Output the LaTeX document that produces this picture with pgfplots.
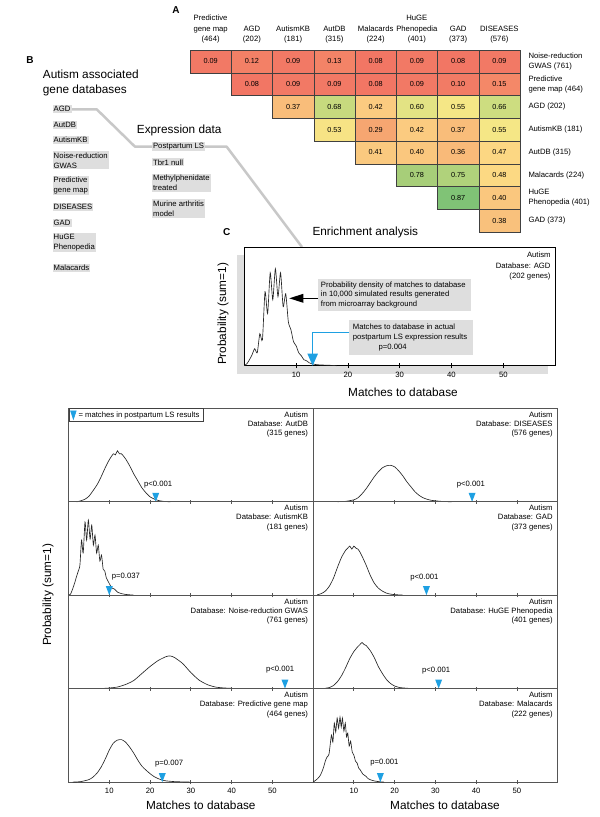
\documentclass[border=0pt]{standalone}
\usepackage{fontspec}
\setmainfont{Liberation Sans}
\usepackage{pgfplots}
\usepackage{pgfplotstable}
\pgfplotsset{compat=1.18}
\definecolor{triblue}{RGB}{30,160,226}
\definecolor{boxgray}{RGB}{222,222,222}
\definecolor{conngray}{RGB}{200,200,200}
\definecolor{framegray}{RGB}{85,85,85}
\newcommand{\fs}{\fontsize{7.7}{9.3}\selectfont}
\newcommand{\fl}{\fontsize{11.8}{14.7}\selectfont}
\pgfdeclareplotmark{cell}{\pgfpathrectangle{\pgfpoint{-20.625pt}{-11.375pt}}{\pgfpoint{41.25pt}{22.75pt}}\pgfusepathqfillstroke}
\pgfdeclareplotmark{dtri}{\pgfpathmoveto{\pgfpoint{-3.5pt}{9pt}}\pgfpathlineto{\pgfpoint{3.5pt}{9pt}}\pgfpathlineto{\pgfpoint{0pt}{0pt}}\pgfpathclose\pgfusepathqfill}
\pgfdeclareplotmark{dtribig}{\pgfpathmoveto{\pgfpoint{-5.3pt}{12pt}}\pgfpathlineto{\pgfpoint{5.3pt}{12pt}}\pgfpathlineto{\pgfpoint{0pt}{0pt}}\pgfpathclose\pgfusepathqfill}
\pgfplotsset{
 panel/.style={scale only axis, width=244.6pt, height=93.5pt, xmin=0, xmax=60, ymin=0, ymax=93.5,
   xtick={10,20,30,40,50}, ytick=\empty, xtick pos=left, xtick align=center, major tick length=4pt,
   axis line style={framegray, line width=0.9pt}, every tick/.append style={framegray, line width=0.8pt},
   anchor=north west, clip=false, /pgf/number format/assume math mode=true, tick label style={font=\fs}},
 curve/.style={black!85, line width=0.65pt, smooth, tension=0.4, forget plot},
 tri/.style={only marks, mark=dtri, triblue},
}
\tikzset{
 note/.style={anchor=north east, align=right, font=\fs, inner sep=0pt},
 pv/.style={font=\fs, inner sep=0pt},
}
\pgfplotstableread{
x y v
0 0 0.09
1 0 0.12
2 0 0.09
3 0 0.13
4 0 0.08
5 0 0.09
6 0 0.08
7 0 0.09
1 1 0.08
2 1 0.09
3 1 0.09
4 1 0.08
5 1 0.09
6 1 0.10
7 1 0.15
2 2 0.37
3 2 0.68
4 2 0.42
5 2 0.60
6 2 0.55
7 2 0.66
3 3 0.53
4 3 0.29
5 3 0.42
6 3 0.37
7 3 0.55
4 4 0.41
5 4 0.40
6 4 0.36
7 4 0.47
5 5 0.78
6 5 0.75
7 5 0.48
6 6 0.87
7 6 0.40
7 7 0.38
}\hmtable
\begin{document}
\begin{tikzpicture}
\path[use as bounding box] (0pt,0pt) rectangle (600pt,-817pt);
% ---------- decorations (B panel, C background) ----------
\begin{scope}[x=1pt,y=-1pt]
\fill[boxgray] (236.7,255) rectangle (548,374);
\draw[conngray, line width=2.5pt, line join=round] (70,109.3) -- (96.7,109.3) -- (135,146.7) -- (153,146.7);
\draw[conngray, line width=2.5pt, line join=round] (203,146.7) -- (226.7,146.7) -- (302,247);
\node[anchor=base, font=\bfseries\fontsize{10}{12}\selectfont] at (176,13.3) {A};
\node[anchor=base, font=\bfseries\fontsize{10}{12}\selectfont] at (30,63.3) {B};
\node[anchor=base, font=\bfseries\fontsize{10}{12}\selectfont] at (226.8,235.7) {C};
\node[anchor=base west, font=\fl, inner sep=0pt] at (42.7,78.5) {Autism associated};
\node[anchor=base west, font=\fl, inner sep=0pt] at (42.7,93) {gene databases};
\node[anchor=base west, font=\fl, inner sep=0pt] at (136.7,133.2) {Expression data};
\node[anchor=base, font=\fl, inner sep=0pt] at (365.3,235.9) {Enrichment analysis};
\tikzset{dbox/.style={fill=boxgray, inner xsep=1.2pt, inner ysep=1.2pt, anchor=west, align=left, font=\fontsize{7.7}{10}\selectfont}}
\node[dbox] at (52.3,109.3) {AGD};
\node[dbox] at (52.3,125) {AutDB};
\node[dbox] at (52.3,140) {AutismKB};
\node[dbox] at (52.3,160.3) {Noise-reduction\\GWAS};
\node[dbox] at (52.3,185.7) {Predictive\\gene map};
\node[dbox] at (52.3,207.3) {DISEASES};
\node[dbox] at (52.3,223) {GAD};
\node[dbox] at (52.3,242.5) {HuGE\\Phenopedia};
\node[dbox] at (52.3,268) {Malacards};
\node[dbox] at (151.7,146.7) {Postpartum LS};
\node[dbox] at (151.7,162.3) {Tbr1 null};
\node[dbox] at (151.7,182.7) {Methylphenidate\\treated};
\node[dbox] at (151.7,208.5) {Murine arthritis\\model};
\end{scope}
% ---------- A: heatmap ----------
\begin{axis}[
  at={(355pt,-141pt)}, anchor=center, scale only axis, width=330pt, height=182pt,
  xmin=-0.5, xmax=7.5, ymin=-0.5, ymax=7.5, y dir=reverse, clip=false,
  axis line style={draw=none}, major tick length=0pt,
  xtick={0,...,7}, ytick={0,...,7},
  xticklabel pos=upper, yticklabel pos=right,
  xticklabels={{Predictive\\gene map\\(464)},{AGD\\(202)},{AutismKB\\(181)},{AutDB\\(315)},{Malacards\\(224)},{HuGE\\Phenopedia\\(401)},{GAD\\(373)},{DISEASES\\(576)}},
  yticklabels={{Noise-reduction\\GWAS (761)},{Predictive\\gene map (464)},{AGD (202)},{AutismKB (181)},{AutDB (315)},{Malacards (224)},{HuGE\\Phenopedia (401)},{GAD (373)}},
  xticklabel style={font=\fontsize{7.7}{10.5}\selectfont, align=center, anchor=south, yshift=3pt},
  yticklabel style={font=\fontsize{7.7}{10}\selectfont, align=left, anchor=west, xshift=5pt},
  colormap={hm}{rgb255=(242,118,100) rgb255=(244,138,104) rgb255=(245,155,108) rgb255=(247,172,115) rgb255=(250,198,126) rgb255=(252,216,131) rgb255=(245,232,134) rgb255=(214,224,130) rgb255=(188,214,124) rgb255=(163,205,121) rgb255=(128,195,118)},
  point meta min=0.08, point meta max=0.87,
  /pgf/number format/assume math mode=true,
]
\addplot[scatter, only marks, mark=cell, point meta=\thisrow{v},
  mark options={line width=0.5pt},
  scatter/use mapped color={draw=black!75, fill=mapped color}]
  table[x=x, y=y] {\hmtable};
\addplot[draw=none, mark=none, point meta=\thisrow{v},
  nodes near coords={\pgfmathprintnumber[fixed,fixed zerofill,precision=2]{\pgfplotspointmeta}},
  nodes near coords align={center},
  every node near coord/.append style={black, font=\fontsize{7.3}{8}\selectfont, anchor=center}]
  table[x=x, y=y] {\hmtable};
\end{axis}
% ---------- C: enrichment example ----------
\begin{axis}[scale only axis, width=310.8pt, height=118.7pt, at={(244.3pt,-247pt)}, anchor=north west,
  xmin=0, xmax=60, ymin=0, ymax=118.7, xtick={10,20,30,40,50}, ytick=\empty, xtick pos=left,
  xtick align=center, major tick length=5pt, axis line style={black, line width=0.8pt},
  every tick/.append style={black, line width=0.7pt},
  axis background/.style={fill=white}, clip=false,
  /pgf/number format/assume math mode=true, tick label style={font=\fs}]
\addplot[curve] coordinates {(0,0) (0.5,2) (1,6) (1.5,11) (2,17) (2.5,13) (3,32) (3.5,26) (4,74) (4.5,52) (5,93) (5.5,66) (6,97) (6.5,69) (7,93) (7.5,59) (8,72) (8.5,44) (9,36) (9.5,24) (10,20) (10.5,13) (11,10) (11.5,6) (12,5) (12.5,3) (13,2) (14,1) (15,0.7) (16,0.5) (17,0.3) (17.8,0)};
\addplot[only marks, mark=dtribig, triblue] coordinates {(13.2,0)};
\node[anchor=north east, align=right, font=\fontsize{7.7}{10.5}\selectfont, inner sep=0pt] at (rel axis cs:0.986,0.959) {Autism\\Database: AGD\\(202 genes)};
\end{axis}
\begin{scope}[x=1pt,y=-1pt]
\fill[boxgray] (318,279.3) rectangle (471,310.7);
\node[anchor=north west, align=left, font=\fontsize{7.7}{9.8}\selectfont, inner sep=0pt] at (320.7,281.4) {Probability density of matches to database\\in 10,000 simulated results generated\\from microarray background};
\draw[black, line width=0.8pt] (318,298.3) -- (302,298.3);
\fill[black] (303.3,293.8) -- (303.3,302.8) -- (289.3,298.3) -- cycle;
\fill[boxgray] (349.3,320) rectangle (473.3,355);
\node[anchor=north west, align=left, font=\fontsize{7.7}{10}\selectfont, inner sep=0pt] at (352.7,323.4) {Matches to database in actual\\postpartum LS expression results};
\node[font=\fs] at (392.7,347.7) {p=0.004};
\draw[triblue, line width=0.8pt] (349.3,332.3) -- (312.7,332.3) -- (312.7,354);
\node[anchor=base, rotate=90, font=\fl, inner sep=0pt] at (226,314) {Probability (sum=1)};
\node[anchor=base, font=\fl, inner sep=0pt] at (403,396.7) {Matches to database};
\end{scope}
% ---------- bottom panels, left column ----------
\begin{axis}[panel, at={(68.5pt,-408.3pt)}, xticklabels={},
  legend style={at={(0,1)}, anchor=north west, draw=black!75, line width=0.6pt, font=\fs, inner xsep=1.5pt, inner ysep=1pt, legend cell align=left},
  legend image code/.code={\fill[triblue] (-2.8pt,4.2pt) -- (2.8pt,4.2pt) -- (0pt,-4.2pt) -- cycle;}]
\addplot[curve] coordinates {(2,0) (3,1) (4,2.5) (5,5.5) (6,11) (7,17) (8,25) (9,34) (10,42) (11,48) (11.5,47) (12,51) (12.5,48) (13,48) (14,43) (15,36) (16,28) (17,21) (18,14) (19,9) (20,5) (21,2.8) (22,1.4) (23,0.6) (24,0.2) (25,0)};
\addplot[tri] coordinates {(21.4,0)};
\addlegendentry{= matches in postpartum LS results}
\node[note] at (rel axis cs:0.98,0.965) {Autism\\Database: AutDB\\(315 genes)};
\node[pv] at (axis cs:22,17) {p<0.001};
\end{axis}
\begin{axis}[panel, at={(68.5pt,-501.6pt)}, xticklabels={}]
\addplot[curve] coordinates {(0,0) (0.5,1) (1,6) (1.5,12) (2,19) (2.4,24) (2.8,30) (3.2,55) (3.6,42) (4.05,73) (4.45,55) (4.87,75) (5.3,56) (5.7,70) (6.1,50) (6.5,60) (6.9,42) (7.3,50) (7.7,34) (8.1,40) (8.5,26) (8.9,24) (9.3,17) (9.7,14) (10.2,10) (10.7,7) (11.3,6) (12,3) (13,1.5) (14,0.7) (15,0.3) (16,0)};
\addplot[tri] coordinates {(10,0)};
\node[note] at (rel axis cs:0.98,0.965) {Autism\\Database: AutismKB\\(181 genes)};
\node[pv, anchor=west] at (axis cs:10.6,19) {p=0.037};
\end{axis}
\begin{axis}[panel, at={(68.5pt,-595pt)}, xticklabels={}]
\addplot[curve] coordinates {(8,0) (10,0.5) (12,1.5) (14,4) (16,8) (18,15) (20,22) (22,28) (24,32) (25,32.5) (26,31) (28,25) (30,16) (32,8.5) (34,4) (36,1.5) (38,0.6) (40,0.2) (42,0)};
\addplot[tri] coordinates {(53.1,0)};
\node[note] at (rel axis cs:0.98,0.965) {Autism\\Database: Noise-reduction GWAS\\(761 genes)};
\node[pv] at (axis cs:51.9,19) {p<0.001};
\end{axis}
\begin{axis}[panel, at={(68.5pt,-688.6pt)}]
\addplot[curve] coordinates {(1,0) (3,0.5) (5,2.5) (6,5) (7,9) (8,15) (9,23) (10,32) (11,39) (12,42) (13,42.5) (14,40) (15,35) (16,29) (17,22) (18,16) (19,12) (20,8.5) (21,5.5) (22,3.5) (23,2) (24,1.2) (26,0.5) (28,0.2) (30,0)};
\addplot[tri] coordinates {(23,0)};
\node[note] at (rel axis cs:0.98,0.965) {Autism\\Database: Predictive gene map\\(464 genes)};
\node[pv] at (axis cs:24.7,19) {p=0.007};
\end{axis}
% ---------- bottom panels, right column ----------
\begin{axis}[panel, at={(313.1pt,-408.3pt)}, xticklabels={}]
\addplot[curve] coordinates {(6,0.1) (8,0.5) (10,2) (11,4) (12,8) (13,13) (14,19) (15,25) (16,30) (17,34) (18,36) (19,36.5) (20,35) (21,31) (22,26) (23,20) (24,15) (25,10) (26,6.5) (27,4) (28,2.5) (29,1.5) (30,1) (31,0.6) (32,0.3) (34,0)};
\addplot[tri] coordinates {(39,0)};
\node[note] at (rel axis cs:0.98,0.965) {Autism\\Database: DISEASES\\(576 genes)};
\node[pv] at (axis cs:38.7,17) {p<0.001};
\end{axis}
\begin{axis}[panel, at={(313.1pt,-501.6pt)}, xticklabels={}]
\addplot[curve] coordinates {(1,0.3) (2,1.5) (3,4) (4,9) (5,17) (6,28) (7,38) (8,45) (8.5,47) (9,49) (9.5,46) (10,49) (10.5,47) (11,46) (11.5,43) (12,39) (13,30) (14,20) (15,12) (16,7) (17,4) (18,2) (19,1) (20,0.5) (22,0)};
\addplot[tri] coordinates {(27.8,0)};
\node[note] at (rel axis cs:0.98,0.965) {Autism\\Database: GAD\\(373 genes)};
\node[pv] at (axis cs:27.3,18) {p<0.001};
\end{axis}
\begin{axis}[panel, at={(313.1pt,-595pt)}, xticklabels={}]
\addplot[curve] coordinates {(3,0.3) (4,1) (5,3) (6,7) (7,13) (8,21) (9,30) (10,37) (11,42) (11.5,44) (12,46) (12.5,44) (13,43) (14,38) (15,31) (16,22) (17,15) (18,9) (19,5) (20,2.5) (21,1.2) (22,0.6) (24,0)};
\addplot[tri] coordinates {(30.8,0)};
\node[note] at (rel axis cs:0.98,0.965) {Autism\\Database: HuGE Phenopedia\\(401 genes)};
\node[pv] at (axis cs:30.2,18) {p<0.001};
\end{axis}
\begin{axis}[panel, at={(313.1pt,-688.6pt)}]
\addplot[curve] coordinates {(0,0) (1,3) (1.8,7) (2.5,14) (3,21) (3.4,25) (3.9,28) (4.5,47) (4.85,40) (5.2,59) (5.55,50) (5.9,64) (6.25,54) (6.6,65) (6.9,55) (7.2,64) (7.55,51) (7.9,59) (8.2,45) (8.5,49) (8.85,36) (9.2,41) (9.6,30) (10,27) (10.4,21) (10.8,19) (11.2,14) (11.6,12) (12.2,8) (12.9,6) (13.5,3.5) (14.1,2.3) (15,1.2) (15.7,0.7) (16.5,0.3) (17.4,0)};
\addplot[tri] coordinates {(16.5,0)};
\node[note] at (rel axis cs:0.98,0.965) {Autism\\Database: Malacards\\(222 genes)};
\node[pv] at (axis cs:17.5,20) {p=0.001};
\end{axis}
\begin{scope}[x=1pt,y=-1pt]
\node[anchor=base, rotate=90, font=\fl, inner sep=0pt] at (51,595) {Probability (sum=1)};
\node[anchor=base, font=\fl, inner sep=0pt] at (200.8,809) {Matches to database};
\node[anchor=base, font=\fl, inner sep=0pt] at (445,809) {Matches to database};
\end{scope}
\end{tikzpicture}
\end{document}
